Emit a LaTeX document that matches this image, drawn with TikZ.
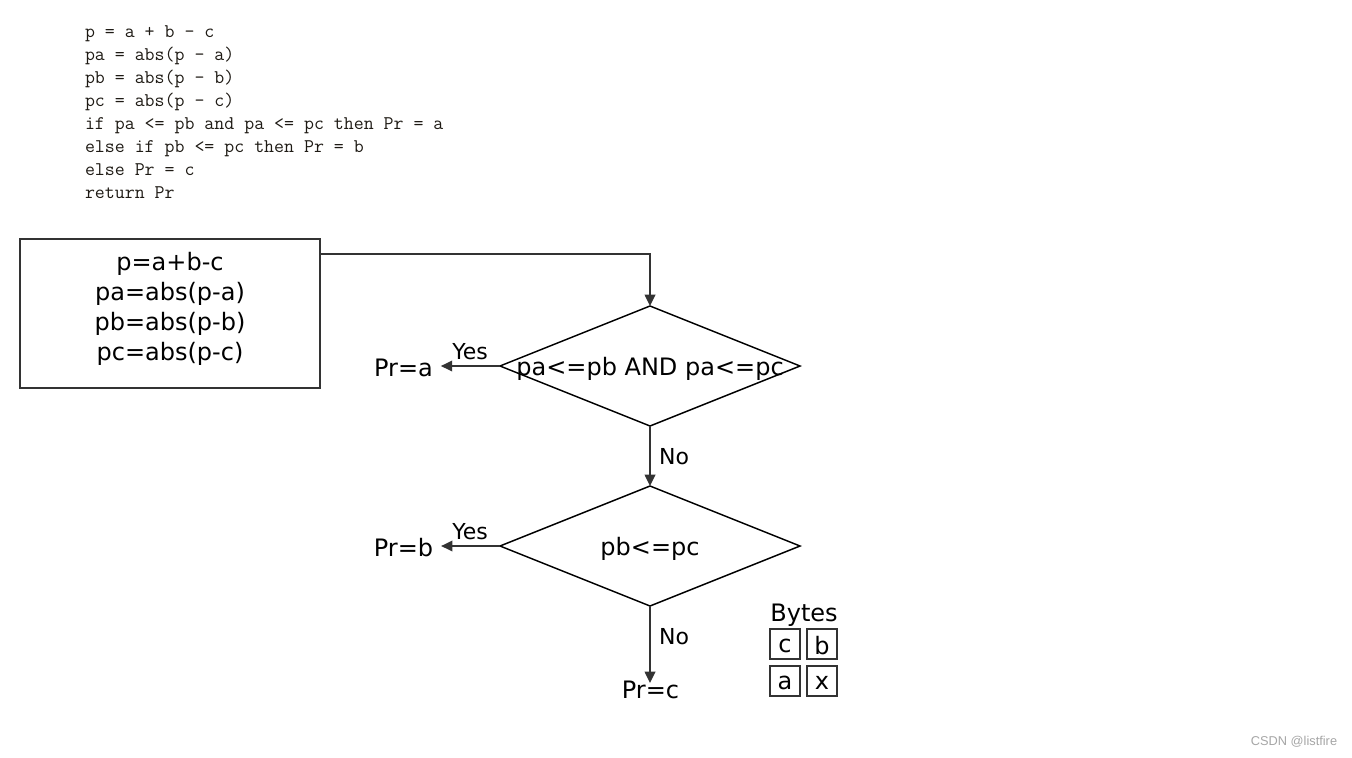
\documentclass[tikz,border=0pt]{standalone}
\usepackage{fontspec}
\setmainfont{DejaVu Sans}
\newfontfamily\wmfont{Liberation Sans}
\usetikzlibrary{shapes.geometric,arrows.meta}
\newcommand\pxu{0.75pt}
\definecolor{lin}{HTML}{333333}
\definecolor{codecol}{HTML}{1E1A14}
\begin{document}
\begin{tikzpicture}[x=0.75pt,y=-0.75pt,
  every node/.style={inner sep=0pt,outer sep=0pt},
  mainfont/.style={font=\fontsize{18}{22.5}\selectfont},
  lblfont/.style={font=\fontsize{16.5}{20}\selectfont},
  codeline/.style={anchor=base west,font=\ttfamily\fontsize{14.5}{17.25}\selectfont,text=codecol},
  procbox/.style={draw=lin,line width=1.1pt,minimum width=300*\pxu,minimum height=149*\pxu},
  decbox/.style={draw=black,line width=1.1pt,shape=diamond,minimum width=300*\pxu,minimum height=120*\pxu},
  bytebox/.style={draw=lin,line width=1.3pt,minimum size=30*\pxu},
  arr/.style={draw=lin,line width=1.1pt,-{Triangle[length=8.5pt,width=8pt]}},
]
\useasboundingbox (0,0) rectangle (1352,757);
\fill[white] (0,0) rectangle (1352,757);

% code
\node[codeline] (code1) at (85,37)  {p = a + b - c};
\node[codeline] (code2) at (85,60)  {pa = abs(p - a)};
\node[codeline] (code3) at (85,83)  {pb = abs(p - b)};
\node[codeline] (code4) at (85,106) {pc = abs(p - c)};
\node[codeline] (code5) at (85,129) {if pa <= pb and pa <= pc then Pr = a};
\node[codeline] (code6) at (85,152) {else if pb <= pc then Pr = b};
\node[codeline] (code7) at (85,175) {else Pr = c};
\node[codeline] (code8) at (85,198) {return Pr};

% process box
\node[procbox] (rect) at (170,313.5) {};
\node[mainfont,align=center] (rtext) at (170,309) {p=a+b-c\\pa=abs(p-a)\\pb=abs(p-b)\\pc=abs(p-c)};

% decisions
\node[decbox] (d1) at (650,366) {};
\node[mainfont] (d1t) at (650,368.5) {pa<=pb AND pa<=pc};
\node[decbox] (d2) at (650,546) {};
\node[mainfont] (d2t) at (650,548.5) {pb<=pc};

% results
\node[mainfont] (pra) at (403.5,368) {Pr=a};
\node[mainfont] (prb) at (403.5,548) {Pr=b};
\node[mainfont] (prc) at (650.5,690) {Pr=c};
\coordinate (prctop) at (650,683);

% connectors
\draw[arr] ([yshift=-15*\pxu]rect.north east) -| (d1.north);
\draw[arr] (d1.west) -- ([xshift=8*\pxu]pra.east |- d1.west);
\draw[arr] (d1.south) -- (d2.north);
\draw[arr] (d2.west) -- ([xshift=8*\pxu]prb.east |- d2.west);
\draw[arr] (d2.south) -- (prctop);

% labels
\node[lblfont] (y1) at (470,352) {Yes};
\node[lblfont] (y2) at (470,532) {Yes};
\node[lblfont] (n1) at (674,457) {No};
\node[lblfont] (n2) at (674,637) {No};

% bytes
\node[mainfont] (bytes) at (804,615) {Bytes};
\node[bytebox] (bc) at (785,644) {};
\node[bytebox] (bb) at (822,644) {};
\node[bytebox] (ba) at (785,681) {};
\node[bytebox] (bx) at (822,681) {};
\node[mainfont] (tc) at (785,645.5) {c};
\node[mainfont] (tb) at (822,645.5) {b};
\node[mainfont] (ta) at (785,682.5) {a};
\node[mainfont] (tx) at (822,682.5) {x};

% watermark
\node[font=\wmfont\fontsize{9.6}{11}\selectfont,text=black!35] (wm) at (1294,742) {CSDN @listfire};
\end{tikzpicture}
\end{document}
